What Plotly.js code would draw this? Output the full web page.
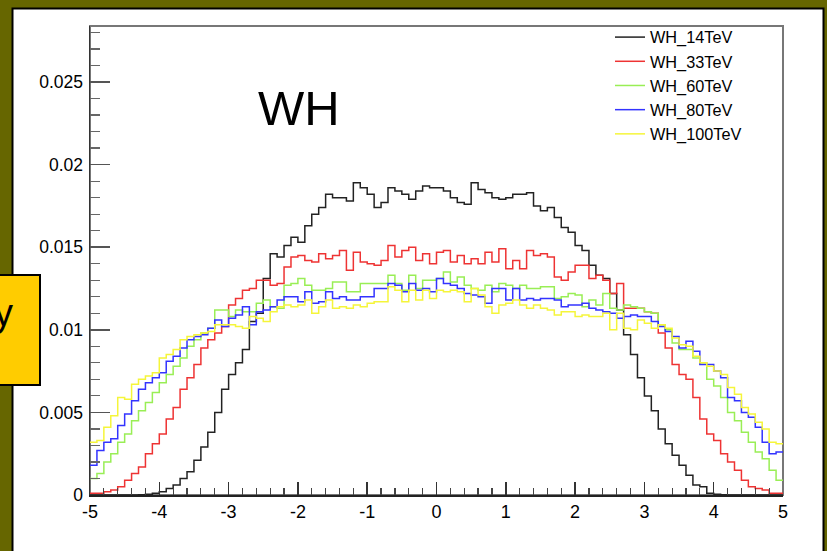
<!DOCTYPE html>
<html>
<head>
<meta charset="utf-8">
<script src="https://cdn.plot.ly/plotly-3.0.1.min.js"></script>
<style>
html,body{margin:0;padding:0;background:#666600;}
#chart{width:827px;height:551px;}
</style>
</head>
<body>
<div id="chart"></div>
<script>
// Histogram binning (eta from -5 to 5, 100 bins)
const binLow = -5;
const binWidth = 0.1;
const nBins = 100;

const seriesNames = ["WH_14TeV", "WH_33TeV", "WH_60TeV", "WH_80TeV", "WH_100TeV"];
const seriesColors = ["#222222", "#ee3333", "#99ee55", "#3333ff", "#f5f53a"];

const h14 = [
0,0,0,0,0,0,0,0.00002,0.00005,0.0001,
0.0002,0.0004,0.0006,0.001,0.0014,0.0021,0.0029,0.0038,0.005,0.0064,
0.0073,0.008,0.0088,0.0105,0.011,0.0131,0.0146,0.0144,0.0151,0.0156,
0.0153,0.0163,0.017,0.0174,0.0182,0.018,0.018,0.0178,0.0189,0.0186,
0.0182,0.0174,0.0177,0.0186,0.0184,0.0182,0.0179,0.0184,0.0187,0.0186,
0.0186,0.0184,0.018,0.0177,0.0176,0.0189,0.0185,0.0183,0.018,0.0179,
0.018,0.0182,0.0182,0.0183,0.0175,0.0172,0.0174,0.0168,0.0162,0.0159,
0.0151,0.0148,0.0139,0.0133,0.0131,0.0122,0.0112,0.0097,0.0085,0.0071,
0.006,0.0051,0.004,0.0031,0.0024,0.0018,0.0012,0.0006,0.0005,0.0001,
0.00005,0.00002,0,0,0,0,0,0,0,0];

const h33 = [
0.0001,0.0001,0.0002,0.0003,0.0005,0.0009,0.0013,0.0017,0.0025,0.0031,
0.0037,0.0046,0.0053,0.0064,0.0071,0.0079,0.0089,0.0094,0.0098,0.0102,
0.0115,0.0119,0.0124,0.0125,0.013,0.013,0.0127,0.0128,0.0138,0.0144,
0.0145,0.0142,0.0141,0.0146,0.0143,0.0145,0.0148,0.0136,0.0147,0.0141,
0.014,0.0139,0.0142,0.0151,0.0144,0.0148,0.015,0.0142,0.0146,0.014,
0.0147,0.0148,0.0141,0.0145,0.014,0.0143,0.014,0.0147,0.0141,0.0149,
0.0137,0.0142,0.0137,0.0148,0.0145,0.0146,0.0144,0.0132,0.013,0.0135,
0.0139,0.0139,0.0131,0.0133,0.013,0.0122,0.0128,0.0113,0.0113,0.0113,
0.0111,0.011,0.0098,0.0089,0.0079,0.0073,0.007,0.0059,0.0046,0.0037,
0.0033,0.0025,0.002,0.0015,0.0009,0.0005,0.0004,0.0003,0.0001,0.0001];

const h60 = [
0.001,0.0013,0.002,0.0025,0.0032,0.0037,0.0045,0.0051,0.0056,0.0062,
0.0068,0.0073,0.0078,0.0083,0.009,0.0094,0.0098,0.0101,0.0112,0.0112,
0.0108,0.0112,0.0111,0.0111,0.0116,0.0118,0.0114,0.0113,0.0127,0.0128,
0.0131,0.0127,0.0124,0.0124,0.0125,0.0129,0.0129,0.0123,0.0123,0.0128,
0.0128,0.0128,0.0128,0.0133,0.0128,0.0124,0.0133,0.0125,0.013,0.013,
0.0131,0.0135,0.0129,0.0132,0.0127,0.0125,0.0124,0.0127,0.0123,0.0128,
0.0127,0.0125,0.0127,0.0125,0.0125,0.0126,0.0126,0.0119,0.012,0.0122,
0.0121,0.0114,0.0118,0.0115,0.0122,0.0113,0.0112,0.0115,0.0114,0.0113,
0.0111,0.011,0.0103,0.01,0.0092,0.0088,0.0088,0.0083,0.008,0.007,
0.0066,0.0059,0.005,0.0045,0.0038,0.0032,0.0026,0.0022,0.0015,0.0009];

const h80 = [
0.0018,0.0027,0.0032,0.0034,0.0042,0.0049,0.0057,0.0064,0.0068,0.0071,
0.0074,0.0081,0.0084,0.0089,0.0094,0.0096,0.0097,0.0101,0.0106,0.0102,
0.0107,0.0109,0.0114,0.0103,0.0111,0.0112,0.0114,0.0118,0.012,0.012,
0.0117,0.0123,0.0116,0.0117,0.0123,0.0119,0.012,0.0118,0.0118,0.012,
0.012,0.0125,0.0125,0.0128,0.0127,0.0123,0.0128,0.0124,0.0125,0.0123,
0.0131,0.0128,0.0127,0.0125,0.0122,0.0121,0.012,0.0116,0.0125,0.0125,
0.0118,0.0125,0.0118,0.0119,0.0118,0.0119,0.0119,0.0118,0.0114,0.0115,
0.0115,0.0116,0.0113,0.0112,0.0111,0.011,0.0107,0.0108,0.0109,0.0108,
0.0108,0.0105,0.0102,0.0099,0.0096,0.0089,0.0093,0.0087,0.0079,0.0079,
0.0075,0.0071,0.0059,0.0057,0.005,0.0047,0.0041,0.0032,0.0025,0.0026];

const h100 = [
0.0032,0.0033,0.0041,0.0048,0.0059,0.0058,0.0067,0.007,0.0072,0.0074,
0.0083,0.0085,0.0088,0.0094,0.0096,0.0097,0.0098,0.0099,0.0103,0.0103,
0.0103,0.0102,0.0101,0.0108,0.0107,0.0105,0.0111,0.0114,0.0115,0.0114,
0.0115,0.0118,0.011,0.0114,0.0118,0.0113,0.0114,0.0113,0.0115,0.0114,
0.0116,0.0117,0.0117,0.0126,0.0124,0.0117,0.0124,0.0118,0.0124,0.0119,
0.0124,0.0123,0.0124,0.0123,0.0117,0.0125,0.0121,0.0114,0.011,0.0115,
0.0116,0.0118,0.0115,0.0113,0.0115,0.0113,0.0112,0.0109,0.0111,0.0111,
0.0108,0.0109,0.0108,0.0108,0.011,0.01,0.011,0.0101,0.01,0.0106,
0.0104,0.0101,0.0103,0.0101,0.0095,0.0091,0.009,0.0084,0.008,0.0078,
0.0075,0.0073,0.0065,0.0061,0.0053,0.0049,0.0044,0.004,0.0032,0.0031];

const xTickVals = [-5,-4,-3,-2,-1,0,1,2,3,4,5];
const xTickText = ["-5","-4","-3","-2","-1","0","1","2","3","4","5"];
const yTickVals = [0,0.005,0.01,0.015,0.02,0.025];
const yTickText = ["0","0.005","0.01","0.015","0.02","0.025"];

const titleText = "WH";
const sideLabel = "y";

const allSeries = [h14, h33, h60, h80, h100];

// bin edges
const edges = [];
for (let i = 0; i <= nBins; i++) edges.push(+(binLow + i * binWidth).toFixed(4));

const traces = allSeries.map((vals, k) => ({
  type: "scatter",
  mode: "lines",
  name: seriesNames[k],
  x: edges,
  y: vals.concat([vals[vals.length - 1]]),
  line: {shape: "hv", color: seriesColors[k], width: 1.5},
  hoverinfo: "skip"
}));

// layout in pixels
const W = 827, H = 551;
const mL = 90, mR = 44, mT = 26, mB = 56;
const pw = W - mL - mR, ph = H - mT - mB;
const px = v => (v - mL) / pw;          // page x -> paper x
const py = v => (H - mB - v) / ph;      // page y -> paper y

const font = "Liberation Sans, Arial, Helvetica, sans-serif";

const layout = {
  width: W, height: H,
  margin: {l: mL, r: mR, t: mT, b: mB, pad: 0},
  paper_bgcolor: "#666600",
  plot_bgcolor: "#ffffff",
  font: {family: font, color: "#000", size: 17},
  showlegend: true,
  legend: {
    x: px(610), y: py(20), xanchor: "left", yanchor: "top",
    bgcolor: "rgba(0,0,0,0)", borderwidth: 0,
    font: {family: font, size: 16.3, color: "#000"},
    itemwidth: 30, tracegroupgap: 0
  },
  xaxis: {
    range: [-5, 5], showgrid: false, zeroline: false,
    showline: true, linecolor: "#222", linewidth: 1.5,
    ticks: "inside", ticklen: 13, tickwidth: 1.5, tickcolor: "#333",
    tickvals: xTickVals, ticktext: xTickText,
    minor: {ticks: "inside", ticklen: 7, tickwidth: 1.2, tickcolor: "#444", dtick: 0.2, showgrid: false},
    tickfont: {family: font, size: 18, color: "#000"},
    ticklabelstandoff: 0
  },
  yaxis: {
    range: [0, 0.02839], showgrid: false, zeroline: false,
    showline: true, linecolor: "#333", linewidth: 1.5,
    ticks: "inside", ticklen: 20, tickwidth: 1.5, tickcolor: "#555",
    tickvals: yTickVals, ticktext: yTickText,
    minor: {ticks: "inside", ticklen: 10, tickwidth: 1.2, tickcolor: "#666", dtick: 0.001, showgrid: false},
    tickfont: {family: font, size: 17.5, color: "#000"},
    ticklabelstandoff: 2
  },
  shapes: [
    // white canvas with black border
    {type: "rect", xref: "paper", yref: "paper", layer: "below",
     x0: px(12.5), x1: px(823.5), y0: py(580), y1: py(8.5),
     fillcolor: "#ffffff", line: {color: "#000", width: 2}},
    // frame
    {type: "rect", xref: "paper", yref: "paper", layer: "below",
     x0: 0, x1: 1, y0: 0, y1: 1,
     fillcolor: "rgba(0,0,0,0)", line: {color: "#777", width: 2}},
    // yellow side box
    {type: "rect", xref: "paper", yref: "paper", layer: "above",
     x0: px(-5), x1: px(40), y0: py(385), y1: py(275),
     fillcolor: "#ffcc00", line: {color: "#000", width: 2}}
  ],
  annotations: [
    {text: titleText, xref: "paper", yref: "paper", x: px(256), y: py(108),
     xanchor: "left", yanchor: "middle", showarrow: false,
     font: {family: font, size: 49, color: "#000"}},
    {text: sideLabel, xref: "paper", yref: "paper", x: px(3), y: py(313),
     xanchor: "center", yanchor: "middle", showarrow: false,
     font: {family: font, size: 38, color: "#000"}}
  ]
};

Plotly.newPlot("chart", traces, layout, {staticPlot: true, displayModeBar: false});
</script>
</body>
</html>
